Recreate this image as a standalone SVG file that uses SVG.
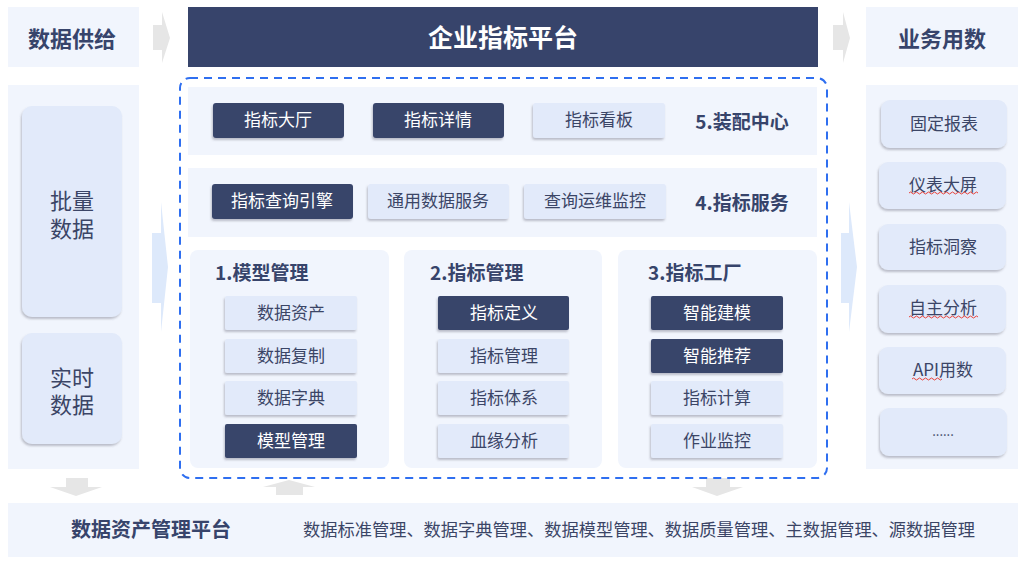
<svg xmlns="http://www.w3.org/2000/svg" width="1024" height="562" viewBox="0 0 1024 562">
<defs>
<style>
text{font-family:"Noto Sans CJK SC","Noto Sans",sans-serif;text-anchor:middle;dominant-baseline:central;transform:translateY(-1.5px)}
.panel{fill:#f1f5fd}
.dark{fill:#37446b}
.light{fill:#e2eafa}
.tw{fill:#ffffff;font-size:17px}
.td{fill:#3b4566;font-size:17px}
.hd{fill:#37446b;font-weight:bold}
.garrow{fill:#e6e6e6}
.barrow{fill:#dde9fb}
.wave{fill:none;stroke:#e8423a;stroke-width:1}
</style>
<filter id="sh" x="-10%" y="-20%" width="120%" height="150%">
<feDropShadow dx="-1" dy="2" stdDeviation="1.2" flood-color="#556" flood-opacity="0.35"/>
</filter>
</defs>
<rect width="1024" height="562" fill="#ffffff"/>

<!-- connectors / arrows -->
<g id="connectors">
<polygon class="garrow" points="153,25 162,25 162,12 170,38 162,63 162,50 153,50"/>
<polygon class="garrow" points="833,25 843,25 843,12 850,38 843,63 843,50 833,50"/>
<polygon class="barrow" points="152,233 161,233 161,202 168,267 161,332 161,303 152,303"/>
<polygon class="barrow" points="841,233 849,233 849,202 857,267 849,332 849,303 841,303"/>
<polygon class="garrow" points="66,478 88,478 88,487 102,487 76,496 50,487 66,487"/>
<polygon class="garrow" points="289,480 315,487 303,487 303,495 276,495 276,487 263,487"/>
<polygon class="garrow" points="706,478 730,478 730,487 743,487 717,496 692,487 706,487"/>
</g>

<!-- header row -->
<g id="supply-header">
<rect class="panel" x="8" y="7" width="131" height="60"/>
<text class="hd" x="72" y="38" font-size="22">数据供给</text>
</g>
<g id="platform-header">
<rect class="dark" x="188" y="7" width="630" height="60"/>
<text x="503" y="37" font-size="25" font-weight="bold" fill="#ffffff">企业指标平台</text>
</g>
<g id="usage-header">
<rect class="panel" x="866" y="7" width="152" height="60"/>
<text class="hd" x="942" y="38" font-size="22">业务用数</text>
</g>

<!-- left column -->
<g id="supply-column">
<rect class="panel" x="8" y="85" width="131" height="384"/>
<g id="batch-data">
<rect class="light" x="22" y="106" width="100" height="211" rx="10" filter="url(#sh)"/>
<text x="72" y="200" font-size="22" fill="#3b4566"><tspan x="72" y="200">批量</tspan><tspan x="72" y="228">数据</tspan></text>
</g>
<g id="realtime-data">
<rect class="light" x="22" y="333" width="100" height="111" rx="10" filter="url(#sh)"/>
<text x="72" y="377" font-size="22" fill="#3b4566"><tspan x="72" y="377">实时</tspan><tspan x="72" y="404">数据</tspan></text>
</g>
</g>

<!-- dashed platform boundary -->
<g id="platform">
<rect x="180" y="78" width="647" height="400" rx="10" fill="none" stroke="#2f6ff0" stroke-width="2" stroke-dasharray="8,6"/>

<g id="assembly-center">
<rect class="panel" x="188" y="87" width="629" height="68"/>
<g id="btn-hall"><rect class="dark" x="213" y="103" width="131" height="35" rx="3" filter="url(#sh)"/><text class="tw" x="278" y="120">指标大厅</text></g>
<g id="btn-detail"><rect class="dark" x="373" y="103" width="131" height="35" rx="3" filter="url(#sh)"/><text class="tw" x="438" y="120">指标详情</text></g>
<g id="btn-board"><rect class="light" x="533" y="103" width="132" height="35" rx="3" filter="url(#sh)"/><text class="td" x="599" y="120">指标看板</text></g>
<text class="hd" x="742" y="122" font-size="19">5.装配中心</text>
</g>

<g id="metric-service">
<rect class="panel" x="188" y="168" width="629" height="69"/>
<g id="btn-engine"><rect class="dark" x="212" y="184" width="141" height="35" rx="3" filter="url(#sh)"/><text class="tw" x="282" y="201">指标查询引擎</text></g>
<g id="btn-dataservice"><rect class="light" x="368" y="184" width="141" height="35" rx="3" filter="url(#sh)"/><text class="td" x="438" y="201">通用数据服务</text></g>
<g id="btn-monitor"><rect class="light" x="524" y="184" width="142" height="35" rx="3" filter="url(#sh)"/><text class="td" x="595" y="201">查询运维监控</text></g>
<text class="hd" x="742" y="203" font-size="19">4.指标服务</text>
</g>

<g id="model-management">
<rect class="panel" x="190" y="250" width="199" height="218" rx="8"/>
<text class="hd" x="215" y="273" font-size="19" style="text-anchor:start">1.模型管理</text>
<g id="m1-asset"><rect class="light" x="225" y="296" width="132" height="34" rx="2" filter="url(#sh)"/><text class="td" x="291" y="313">数据资产</text></g>
<g id="m1-copy"><rect class="light" x="225" y="339" width="132" height="34" rx="2" filter="url(#sh)"/><text class="td" x="291" y="356">数据复制</text></g>
<g id="m1-dict"><rect class="light" x="225" y="381" width="132" height="34" rx="2" filter="url(#sh)"/><text class="td" x="291" y="398">数据字典</text></g>
<g id="m1-model"><rect class="dark" x="225" y="424" width="132" height="34" rx="2" filter="url(#sh)"/><text class="tw" x="291" y="441">模型管理</text></g>
</g>

<g id="metric-management">
<rect class="panel" x="404" y="250" width="198" height="218" rx="8"/>
<text class="hd" x="430" y="273" font-size="19" style="text-anchor:start">2.指标管理</text>
<g id="m2-define"><rect class="dark" x="438" y="296" width="131" height="34" rx="2" filter="url(#sh)"/><text class="tw" x="504" y="313">指标定义</text></g>
<g id="m2-manage"><rect class="light" x="438" y="339" width="131" height="34" rx="2" filter="url(#sh)"/><text class="td" x="504" y="356">指标管理</text></g>
<g id="m2-system"><rect class="light" x="438" y="381" width="131" height="34" rx="2" filter="url(#sh)"/><text class="td" x="504" y="398">指标体系</text></g>
<g id="m2-lineage"><rect class="light" x="438" y="424" width="131" height="34" rx="2" filter="url(#sh)"/><text class="td" x="504" y="441">血缘分析</text></g>
</g>

<g id="metric-factory">
<rect class="panel" x="618" y="250" width="199" height="218" rx="8"/>
<text class="hd" x="648" y="273" font-size="19" style="text-anchor:start">3.指标工厂</text>
<g id="m3-modeling"><rect class="dark" x="651" y="296" width="132" height="34" rx="2" filter="url(#sh)"/><text class="tw" x="717" y="313">智能建模</text></g>
<g id="m3-recommend"><rect class="dark" x="651" y="339" width="132" height="34" rx="2" filter="url(#sh)"/><text class="tw" x="717" y="356">智能推荐</text></g>
<g id="m3-compute"><rect class="light" x="651" y="381" width="132" height="34" rx="2" filter="url(#sh)"/><text class="td" x="717" y="398">指标计算</text></g>
<g id="m3-jobs"><rect class="light" x="651" y="424" width="132" height="34" rx="2" filter="url(#sh)"/><text class="td" x="717" y="441">作业监控</text></g>
</g>
</g>

<!-- right column -->
<g id="usage-column">
<rect class="panel" x="866" y="85" width="152" height="384"/>
<g id="u-report"><rect class="light" x="881" y="100" width="126" height="48" rx="9" filter="url(#sh)"/><text class="td" x="944" y="124">固定报表</text></g>
<g id="u-screen"><rect class="light" x="879" y="162" width="127" height="47" rx="9" filter="url(#sh)"/><text class="td" x="943" y="185">仪表大屏</text>
<path class="wave" d="M909,193 q1.5,-2 3,0 t3,0 t3,0 t3,0 t3,0 t3,0 t3,0 t3,0 t3,0 t3,0 t3,0 t3,0 t3,0 t3,0 t3,0 t3,0 t3,0 t3,0 t3,0 t3,0 t3,0 t3,0 t3,0"/></g>
<g id="u-insight"><rect class="light" x="879" y="224" width="127" height="46" rx="9" filter="url(#sh)"/><text class="td" x="943" y="247">指标洞察</text></g>
<g id="u-analysis"><rect class="light" x="879" y="285" width="127" height="48" rx="9" filter="url(#sh)"/><text class="td" x="943" y="308">自主分析</text>
<path class="wave" d="M909,317 q1.5,-2 3,0 t3,0 t3,0 t3,0 t3,0 t3,0 t3,0 t3,0 t3,0 t3,0 t3,0 t3,0 t3,0 t3,0 t3,0 t3,0 t3,0 t3,0 t3,0 t3,0 t3,0 t3,0 t3,0"/></g>
<g id="u-api"><rect class="light" x="879" y="347" width="127" height="47" rx="9" filter="url(#sh)"/><text class="td" x="943" y="370">API用数</text>
<path class="wave" d="M912,379 q1.5,-2 3,0 t3,0 t3,0 t3,0 t3,0 t3,0 t3,0 t3,0 t3,0 t3,0"/></g>
<g id="u-more"><rect class="light" x="880" y="408" width="127" height="48" rx="9" filter="url(#sh)"/><text x="943" y="432" font-size="13" fill="#3b4566">......</text></g>
</g>

<!-- bottom bar -->
<g id="asset-platform">
<rect class="panel" x="8" y="503" width="1010" height="54"/>
<text class="hd" x="151" y="530" font-size="20">数据资产管理平台</text>
<text x="639" y="530" font-size="17" fill="#3b4566" textLength="672" lengthAdjust="spacingAndGlyphs">数据标准管理、数据字典管理、数据模型管理、数据质量管理、主数据管理、源数据管理</text>
</g>
</svg>
